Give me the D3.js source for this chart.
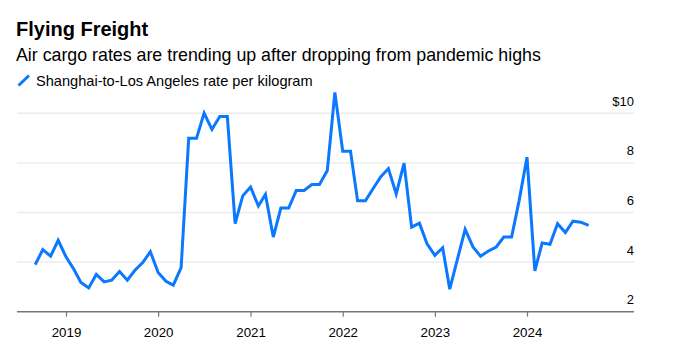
<!DOCTYPE html>
<html>
<head>
<meta charset="utf-8">
<script src="https://cdn.jsdelivr.net/npm/d3@7"></script>
<style>
  html, body { margin: 0; padding: 0; background: #fff; }
  svg { display: block; font-family: "Liberation Sans", Arial, Helvetica, sans-serif; }
</style>
</head>
<body>
<svg id="chart" width="678" height="348"></svg>
<script>
// Data: monthly Shanghai-to-Los Angeles air cargo rate (USD per kg), Sep 2018 - Sep 2024
const startMonth = "2018-09";
const rates = [
  3.9, 4.5, 4.24, 4.88,                       // 2018 Sep-Dec
  4.21, 3.71, 3.18, 2.96, 3.5, 3.2, 3.27, 3.62, 3.27, 3.67, 3.98, 4.42,   // 2019
  3.58, 3.23, 3.07, 3.78, 8.99, 8.99, 10.01, 9.35, 9.87, 9.87, 5.55, 6.67, // 2020
  7.03, 6.26, 6.73, 5.01, 6.18, 6.18, 6.89, 6.89, 7.13, 7.13, 7.69, 10.84, // 2021
  8.47, 8.47, 6.47, 6.47, 6.96, 7.44, 7.77, 6.75, 7.99, 5.41, 5.57, 4.74,  // 2022
  4.27, 4.58, 2.91, 4.14, 5.32, 4.61, 4.24, 4.45, 4.61, 5.01, 5.01, 6.49,  // 2023
  8.23, 3.65, 4.77, 4.72, 5.55, 5.19, 5.65, 5.61, 5.48                    // 2024 Jan-Sep
];
const yTicks = [2, 4, 6, 8, 10];
const yTickLabels = ["2", "4", "6", "8", "$10"];
const xTickYears = [2019, 2020, 2021, 2022, 2023, 2024];

const title = "Flying Freight";
const subtitle = "Air cargo rates are trending up after dropping from pandemic highs";
const legendLabel = "Shanghai-to-Los Angeles rate per kilogram";

const parseMonth = d3.timeParse("%Y-%m");
const start = parseMonth(startMonth);
const data = rates.map((v, i) => ({ date: d3.timeMonth.offset(start, i), value: v }));

const svg = d3.select("#chart");
const lineColor = "#0a78ff";

const x = d3.scaleTime()
  .domain([new Date(2019, 0, 1), new Date(2024, 0, 1)])
  .range([66, 527]);
const y = d3.scaleLinear().domain([2, 10]).range([311.7, 113.3]);

const plotLeft = 17, plotRight = 634;

// Title / subtitle / legend
svg.append("text").attr("x", 16).attr("y", 36)
  .attr("font-size", 20).attr("font-weight", "bold").attr("fill", "#000").text(title);
svg.append("text").attr("x", 16).attr("y", 61)
  .attr("font-size", 17.8).attr("fill", "#000").text(subtitle);
svg.append("line").attr("x1", 18.5).attr("y1", 85.5).attr("x2", 29).attr("y2", 75.5)
  .attr("stroke", lineColor).attr("stroke-width", 3).attr("stroke-linecap", "butt");
svg.append("text").attr("x", 36).attr("y", 86)
  .attr("font-size", 14.6).attr("fill", "#000").text(legendLabel);

// Gridlines
const grid = svg.append("g");
yTicks.filter(t => t !== 2).forEach(t => {
  grid.append("line").attr("x1", plotLeft).attr("x2", plotRight)
    .attr("y1", y(t)).attr("y2", y(t))
    .attr("stroke", "#ececec").attr("stroke-width", 1.5);
});

// Y labels (above gridlines, right aligned)
const yLab = svg.append("g");
yTicks.forEach((t, i) => {
  yLab.append("text").attr("x", plotRight).attr("y", y(t) - 7.5)
    .attr("text-anchor", "end").attr("font-size", 13).attr("fill", "#000")
    .text(yTickLabels[i]);
});

// X axis baseline
svg.append("line").attr("x1", plotLeft).attr("x2", plotRight)
  .attr("y1", y(2)).attr("y2", y(2))
  .attr("stroke", "#777").attr("stroke-width", 1.5);

const xAxis = d3.axisBottom(x)
  .tickValues(xTickYears.map(yr => new Date(yr, 0, 1)))
  .tickFormat(d3.timeFormat("%Y"))
  .tickSize(5).tickPadding(10.5);
const gx = svg.append("g").attr("transform", `translate(0,${y(2)})`).call(xAxis);
gx.select(".domain").remove();
gx.selectAll(".tick line").attr("stroke", "#777").attr("stroke-width", 1.2);
gx.selectAll(".tick text").attr("font-size", 13.3).attr("fill", "#000")
  .attr("font-family", "'Liberation Sans', Arial, sans-serif");

// Line
const line = d3.line().x(d => x(d.date)).y(d => y(d.value));
svg.append("path").datum(data)
  .attr("d", line).attr("fill", "none")
  .attr("stroke", lineColor).attr("stroke-width", 3)
  .attr("stroke-linejoin", "miter").attr("stroke-linecap", "butt");
</script>
</body>
</html>
